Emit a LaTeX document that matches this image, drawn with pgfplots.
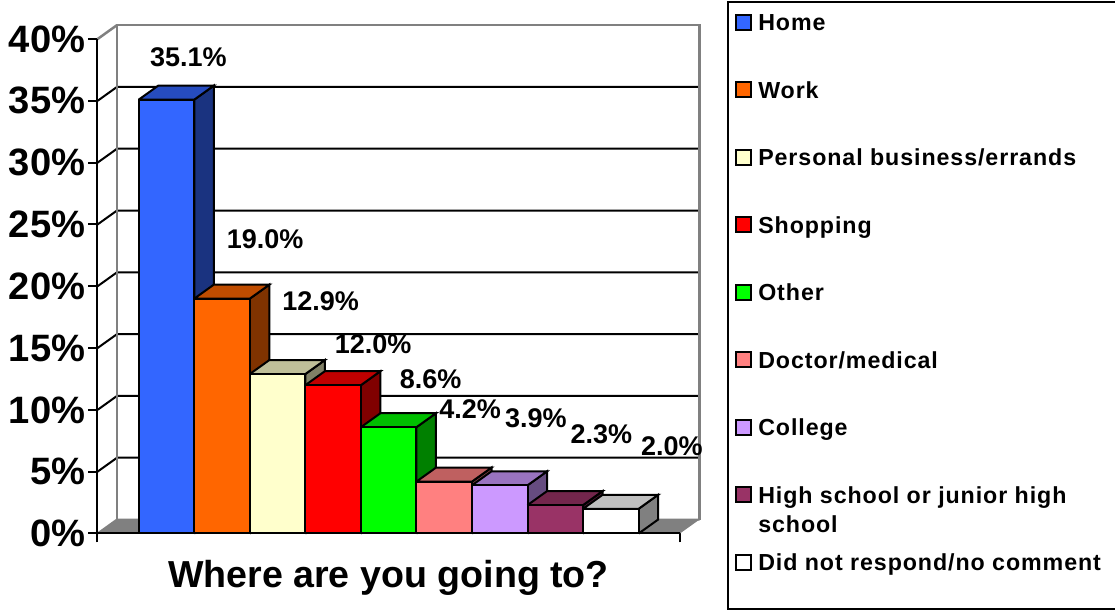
\documentclass[border=0pt]{standalone}
\usepackage{fontspec}
\setmainfont{Liberation Sans}
\newfontfamily\legfont{Liberation Sans}[LetterSpace=4]
\usepackage{pgfplots}
\pgfplotsset{compat=1.18}
\newlength\px
\setlength\px{0.75pt}
% one bar: fill, label shift x, label shift y (pixels)
\pgfplotsset{
  bar/.style n args={3}{
    ybar, bar width=55.55\px, bar shift=0pt, fill=#1, draw=black, line width=2\px,
    nodes near coords={\pgfmathprintnumber[fixed,fixed zerofill,precision=1,assume math mode=true]{\pgfplotspointmeta}\%},
    nodes near coords style={anchor=center, xshift=#2\px, yshift=#3\px, font=\fontsize{20.25}{24}\selectfont\bfseries, text=black},
    legend image code/.code={\draw[##1] (0\px,-5\px) rectangle (15\px,10\px);}
  },
  face/.style={fill=#1, draw=black, line width=2\px, forget plot},
}
\definecolor{cHome}{HTML}{3366FF}\definecolor{cHomeT}{HTML}{264CBF}\definecolor{cHomeS}{HTML}{1A3380}
\definecolor{cWork}{HTML}{FF6600}\definecolor{cWorkT}{HTML}{BF4C00}\definecolor{cWorkS}{HTML}{803300}
\definecolor{cPers}{HTML}{FFFFCC}\definecolor{cPersT}{HTML}{BFBF99}\definecolor{cPersS}{HTML}{808066}
\definecolor{cShop}{HTML}{FF0000}\definecolor{cShopT}{HTML}{BF0000}\definecolor{cShopS}{HTML}{800000}
\definecolor{cOthr}{HTML}{00FF00}\definecolor{cOthrT}{HTML}{00BF00}\definecolor{cOthrS}{HTML}{008000}
\definecolor{cDoct}{HTML}{FF8080}\definecolor{cDoctT}{HTML}{BF6060}\definecolor{cDoctS}{HTML}{804040}
\definecolor{cColl}{HTML}{CC99FF}\definecolor{cCollT}{HTML}{9973BF}\definecolor{cCollS}{HTML}{664C80}
\definecolor{cHigh}{HTML}{993366}\definecolor{cHighT}{HTML}{73264C}\definecolor{cHighS}{HTML}{4C1933}
\definecolor{cNone}{HTML}{FFFFFF}\definecolor{cNoneT}{HTML}{BFBFBF}\definecolor{cNoneS}{HTML}{808080}
\begin{document}
\begin{tikzpicture}
\useasboundingbox (0,0) rectangle (1115\px,611\px);
\draw[line width=2\px] (1120\px,609\px) -- (728\px,609\px) -- (728\px,2\px) -- (1120\px,2\px);
\begin{axis}[
  at={(97.5\px,77.5\px)}, anchor=south west,
  scale only axis, width=602\px, height=508.5\px,
  xmin=0, xmax=602, ymin=0, ymax=41.14,
  clip=false,
  axis x line*=bottom, axis y line*=left,
  axis line style={draw=none},
  xtick={0,582.5}, xticklabels={},
  ytick={0,5,10,15,20,25,30,35,40},
  yticklabel={\pgfmathprintnumber[assume math mode=true]{\tick}\%},
  tick style={black, line width=2\px},
  tickwidth=9\px, xtick align=outside, ytick align=outside,
  ticklabel style={font=\fontsize{28.6}{32}\selectfont\bfseries},
  yticklabel style={inner sep=1\px, xshift=-2\px},
  xlabel={Where are you going to?},
  x label style={at={(axis description cs:0.4834,0)}, anchor=north, yshift=-22\px, font=\fontsize{28.2}{32}\selectfont\bfseries},
  legend style={at={(axis cs:637.5,42.3)}, anchor=north west, draw=none, fill=none,
    row sep=39.5\px, column sep=6\px, inner sep=0pt,
    nodes={inner sep=0pt, text height=20\px, text depth=8\px, font=\legfont\fontsize{17.4}{20}\selectfont\bfseries}},
  legend cell align=left,
]
% back wall and floor
\addplot[fill=gray!100, draw=none, forget plot] coordinates {(0,0) (582.5,0) (602,1.13) (19.5,1.13) (0,0)};
\addplot[draw=gray, line width=2\px, forget plot] coordinates {(0,0) (19.5,1.13) (602,1.13)};
\addplot[black, line width=2\px, unbounded coords=jump, forget plot] coordinates {
  (0,5) (19.5,6.13) (602,6.13) (0,nan)
  (0,10) (19.5,11.13) (602,11.13) (0,nan)
  (0,15) (19.5,16.13) (602,16.13) (0,nan)
  (0,20) (19.5,21.13) (602,21.13) (0,nan)
  (0,25) (19.5,26.13) (602,26.13) (0,nan)
  (0,30) (19.5,31.13) (602,31.13) (0,nan)
  (0,35) (19.5,36.13) (602,36.13)
};
\addplot[draw=gray, line width=2.5\px, forget plot] coordinates {(19.5,1.13) (19.5,41.13) (602,41.13) (602,1.13)};
\addplot[draw=gray, line width=2.5\px, forget plot] coordinates {(0,40) (19.5,41.13)};
\addplot[black, line width=2\px, forget plot] coordinates {(0,40) (0,0) (582.5,0)};
% bars, left to right
\addplot[face=cHomeS] coordinates {(96.75,0) (96.75,35.1) (116.25,36.23) (116.25,1.13) (96.75,0)};
\addplot[face=cHomeT] coordinates {(41.2,35.1) (96.75,35.1) (116.25,36.23) (60.7,36.23) (41.2,35.1)};
\addplot[bar={cHome}{22}{42}] coordinates {(68.98,35.1)};
\addlegendentry{Home}
\addplot[face=cWorkS] coordinates {(152.3,0) (152.3,19.0) (171.8,20.13) (171.8,1.13) (152.3,0)};
\addplot[face=cWorkT] coordinates {(96.75,19.0) (152.3,19.0) (171.8,20.13) (116.25,20.13) (96.75,19.0)};
\addplot[bar={cWork}{43}{59}] coordinates {(124.53,19.0)};
\addlegendentry{Work}
\addplot[face=cPersS] coordinates {(207.85,0) (207.85,12.9) (227.35,14.03) (227.35,1.13) (207.85,0)};
\addplot[face=cPersT] coordinates {(152.3,12.9) (207.85,12.9) (227.35,14.03) (171.8,14.03) (152.3,12.9)};
\addplot[bar={cPers}{43}{73}] coordinates {(180.08,12.9)};
\addlegendentry{Personal business/errands}
\addplot[face=cShopS] coordinates {(263.4,0) (263.4,12.0) (282.9,13.13) (282.9,1.13) (263.4,0)};
\addplot[face=cShopT] coordinates {(207.85,12.0) (263.4,12.0) (282.9,13.13) (227.35,13.13) (207.85,12.0)};
\addplot[bar={cShop}{40}{41}] coordinates {(235.63,12.0)};
\addlegendentry{Shopping}
\addplot[face=cOthrS] coordinates {(318.95,0) (318.95,8.6) (338.45,9.73) (338.45,1.13) (318.95,0)};
\addplot[face=cOthrT] coordinates {(263.4,8.6) (318.95,8.6) (338.45,9.73) (282.9,9.73) (263.4,8.6)};
\addplot[bar={cOthr}{42}{48}] coordinates {(291.18,8.6)};
\addlegendentry{Other}
\addplot[face=cDoctS] coordinates {(374.5,0) (374.5,4.2) (394,5.33) (394,1.13) (374.5,0)};
\addplot[face=cDoctT] coordinates {(318.95,4.2) (374.5,4.2) (394,5.33) (338.45,5.33) (318.95,4.2)};
\addplot[bar={cDoct}{26}{72}] coordinates {(346.73,4.2)};
\addlegendentry{Doctor/medical}
\addplot[face=cCollS] coordinates {(430.05,0) (430.05,3.9) (449.55,5.03) (449.55,1.13) (430.05,0)};
\addplot[face=cCollT] coordinates {(374.5,3.9) (430.05,3.9) (449.55,5.03) (394,5.03) (374.5,3.9)};
\addplot[bar={cColl}{36}{67}] coordinates {(402.28,3.9)};
\addlegendentry{College}
\addplot[face=cHighS] coordinates {(485.6,0) (485.6,2.3) (505.1,3.43) (505.1,1.13) (485.6,0)};
\addplot[face=cHighT] coordinates {(430.05,2.3) (485.6,2.3) (505.1,3.43) (449.55,3.43) (430.05,2.3)};
\addplot[bar={cHigh}{46}{71}] coordinates {(457.83,2.3)};
\addlegendentry{\rlap{\raisebox{-29\px}{school}}High school or junior high}
\addplot[face=cNoneS] coordinates {(541.15,0) (541.15,2.0) (560.65,3.13) (560.65,1.13) (541.15,0)};
\addplot[face=cNoneT] coordinates {(485.6,2.0) (541.15,2.0) (560.65,3.13) (505.1,3.13) (485.6,2.0)};
\addplot[bar={cNone}{61}{63}] coordinates {(513.38,2.0)};
\addlegendentry{Did not respond/no comment}
\end{axis}
\end{tikzpicture}
\end{document}
